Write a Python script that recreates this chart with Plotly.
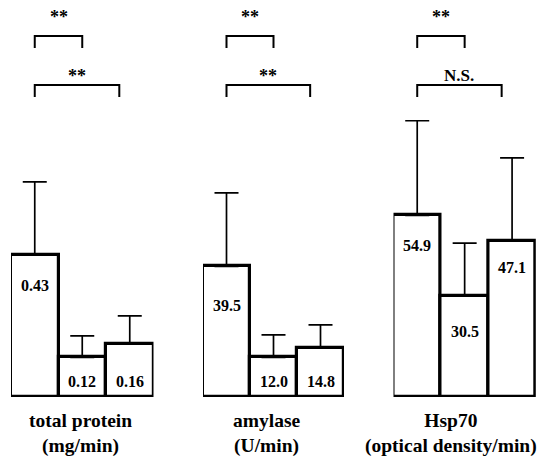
import plotly.graph_objects as go

# ---------------- data ----------------
group_labels = ["total protein<br>(mg/min)", "amylase<br>(U/min)", "Hsp70<br>(optical density/min)"]

tp_values = [0.43, 0.12, 0.16]
tp_errors = [0.22, 0.065, 0.085]
tp_text = ["0.43", "0.12", "0.16"]

am_values = [39.5, 12.0, 14.8]
am_errors = [22.2, 6.8, 7.0]
am_text = ["39.5", "12.0", "14.8"]

hsp_values = [54.9, 30.5, 47.1]
hsp_errors = [28.6, 16.0, 25.2]
hsp_text = ["54.9", "30.5", "47.1"]

sig_top = ["**", "**", "**"]      # bar 1 vs bar 2
sig_low = ["**", "**", "N.S."]    # bar 1 vs bar 3

bar_pos = [0, 1, 2]

# ---------------- style / layout ----------------
W, H = 542, 456
FONT = "Liberation Serif, Times New Roman, serif"
base_px = 397.0
x_domains_px = [(11, 153.5), (203, 344), (393.5, 535.8)]
y_ranges = [1.2, 120, 120]
label_offsets = [[31, None, None], [39, None, None], [30, 35, 26]]  # px below bar top
label_x_px = [80, 267, 451]
label_y_px = [433, 433, 433]

panels = [
    (tp_values, tp_errors, tp_text),
    (am_values, am_errors, am_text),
    (hsp_values, hsp_errors, hsp_text),
]

fig = go.Figure()
annotations = []
shapes = []
ydom = [(H - base_px) / H, 1.0]

def py(px):
    return 1 - px / H

for i, (vals, errs, texts) in enumerate(panels):
    sfx = "" if i == 0 else str(i + 1)
    xa, ya = "x" + sfx, "y" + sfx
    fig.add_trace(go.Bar(
        x=bar_pos, y=vals, xaxis=xa, yaxis=ya, width=1.0,
        marker=dict(color="white", line=dict(color="black", width=3.2)),
        error_y=dict(type="data", symmetric=False, array=errs,
                     arrayminus=[0] * len(errs), color="black",
                     thickness=1.7, width=12),
        showlegend=False, hoverinfo="skip",
    ))
    d0, d1 = x_domains_px[i]
    fig.layout["xaxis" + sfx] = dict(domain=[d0 / W, d1 / W], range=[-0.5, 2.5],
                                     visible=False, anchor=ya)
    fig.layout["yaxis" + sfx] = dict(domain=ydom, range=[0, y_ranges[i]],
                                     visible=False, anchor=xa)
    vmax = max(vals)
    for j, (v, t) in enumerate(zip(vals, texts)):
        if v >= 0.45 * vmax:
            off = label_offsets[i][j] or 32
            annotations.append(dict(x=bar_pos[j], y=v, xref=xa, yref=ya, yshift=-off,
                                    text="<b>%s</b>" % t, showarrow=False,
                                    font=dict(family=FONT, size=16, color="black"),
                                    xanchor="center", yanchor="middle"))
        else:
            annotations.append(dict(x=bar_pos[j], y=0, xref=xa, yref=ya, yshift=16,
                                    text="<b>%s</b>" % t, showarrow=False,
                                    font=dict(family=FONT, size=16, color="black"),
                                    xanchor="center", yanchor="middle"))
    # brackets
    x_a, x_b, x_c = bar_pos[0], bar_pos[1], 1.78
    for (xr, ytop, ybot, label, ylab, fs) in [
        (x_b, 36, 48, sig_top[i], 17, 18),
        (x_c, 85, 97, sig_low[i], 75, 17 if sig_low[i] == "N.S." else 18),
    ]:
        if label == "**":
            ylab_use = ylab if ytop == 36 else 76
        else:
            ylab_use = ylab
        shapes.append(dict(type="path", xref=xa, yref="paper",
                           path="M %f,%f L %f,%f L %f,%f L %f,%f" % (
                               x_a, py(ybot), x_a, py(ytop), xr, py(ytop), xr, py(ybot)),
                           line=dict(color="black", width=2)))
        annotations.append(dict(x=(x_a + xr) / 2, y=py(ylab_use), xref=xa, yref="paper",
                                text="<b>%s</b>" % label, showarrow=False,
                                font=dict(family=FONT, size=fs, color="black"),
                                xanchor="center", yanchor="middle"))
    annotations.append(dict(x=label_x_px[i] / W, y=py(label_y_px[i]), xref="paper", yref="paper",
                            text="<b>%s</b>" % group_labels[i], showarrow=False,
                            font=dict(family=FONT, size=19.5, color="black"),
                            xanchor="center", yanchor="middle"))

fig.update_layout(
    width=W, height=H,
    margin=dict(l=0, r=0, t=0, b=0),
    paper_bgcolor="white", plot_bgcolor="rgba(0,0,0,0)",
    bargap=0, barmode="group",
    annotations=annotations, shapes=shapes,
)

fig.write_html("out.html", config={"displayModeBar": False},
               post_script="document.body.style.margin='0';")
